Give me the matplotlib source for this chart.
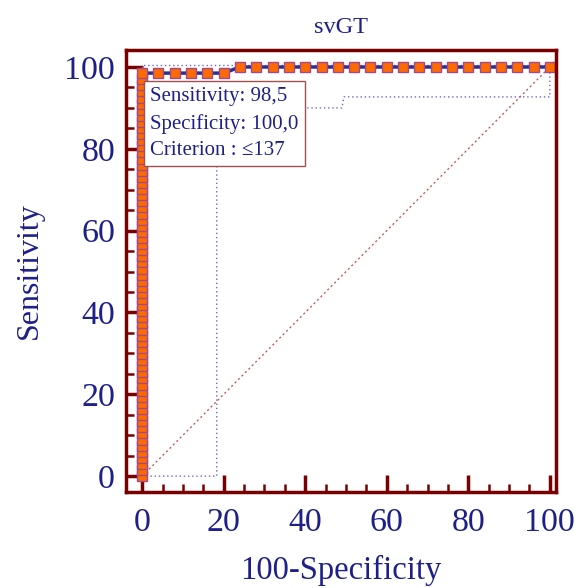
import numpy as np
import matplotlib
matplotlib.use('Agg')
import matplotlib.pyplot as plt
from matplotlib.ticker import MultipleLocator

# ROC curve points (100-Specificity, Sensitivity)
n_pos = 67
sens_vert = [k * 100.0 / n_pos for k in range(0, 67)]
fpr_low = [0, 4, 8, 12, 16, 20]
fpr_high = [24, 28, 32, 36, 40, 44, 48, 52, 56, 60, 64, 68, 72, 76, 80, 84,
            88, 92, 96, 100]

roc_x = [0] * len(sens_vert) + fpr_low[1:] + fpr_high
roc_y = sens_vert + [sens_vert[-1]] * (len(fpr_low) - 1) + [100] * len(fpr_high)

# confidence bounds
lower_x = [0, 18.3, 18.3, 49, 49.5, 100, 100]
lower_y = [0, 0, 90.0, 90.0, 92.7, 92.7, 100]
upper_x = [0, 0, 100]
upper_y = [0, 100.5, 100.5]

navy = '#1f1f8a'
dark_red = '#780000'
serif = ['Liberation Serif', 'DejaVu Serif']

fig = plt.figure(figsize=(5.76, 5.88), dpi=100)
ax = fig.add_axes([0.219, 0.163, 0.746, 0.752])

ax.plot([0, 100], [0, 100], ls=(0, (1.5, 2)), color='#c06060', lw=1)
ax.plot(lower_x, lower_y, ls=(0, (1, 2)), color='#6a6acc', lw=1)
ax.plot(upper_x, upper_y, ls=(0, (1, 2)), color='#6a6acc', lw=1)
ax.plot(roc_x, roc_y, color='#2e2e90', lw=2.5, marker='s', ms=7.5,
        mfc='#ff6a00', mec='#a04a8a', mew=1)

ax.set_xlim(-3.92, 101.47)
ax.set_ylim(-3.91, 104.16)

ax.xaxis.set_major_locator(MultipleLocator(20))
ax.xaxis.set_minor_locator(MultipleLocator(5))
ax.yaxis.set_major_locator(MultipleLocator(20))
ax.yaxis.set_minor_locator(MultipleLocator(5))

for s in ax.spines.values():
    s.set_color(dark_red)
    s.set_linewidth(2.5)

ax.tick_params(which='major', direction='in', length=12, width=2.5,
               color=dark_red, labelsize=24.5, labelcolor=navy, pad=8)
ax.tick_params(axis='x', which='major', pad=11)
ax.tick_params(which='minor', direction='in', length=6, width=1.8,
               color=dark_red)
for lab in ax.get_xticklabels() + ax.get_yticklabels():
    lab.set_family(serif)

ax.set_xlabel('100-Specificity', fontsize=23.5, color=navy, family=serif,
              labelpad=12)
ax.set_ylabel('Sensitivity', fontsize=23, color=navy, family=serif,
              labelpad=15)
ax.set_title('svGT', fontsize=17.5, color=navy, family=serif, pad=12)

ax.text(2.0, 95.0, 'Sensitivity: 98,5\nSpecificity: 100,0\nCriterion : \u2264137',
        fontsize=15, color=navy, family=serif, va='top', ha='left',
        linespacing=1.5,
        bbox=dict(boxstyle='square,pad=0.3', fc='white', ec='#a05050', lw=1))

fig.savefig('out.png', dpi=100)
